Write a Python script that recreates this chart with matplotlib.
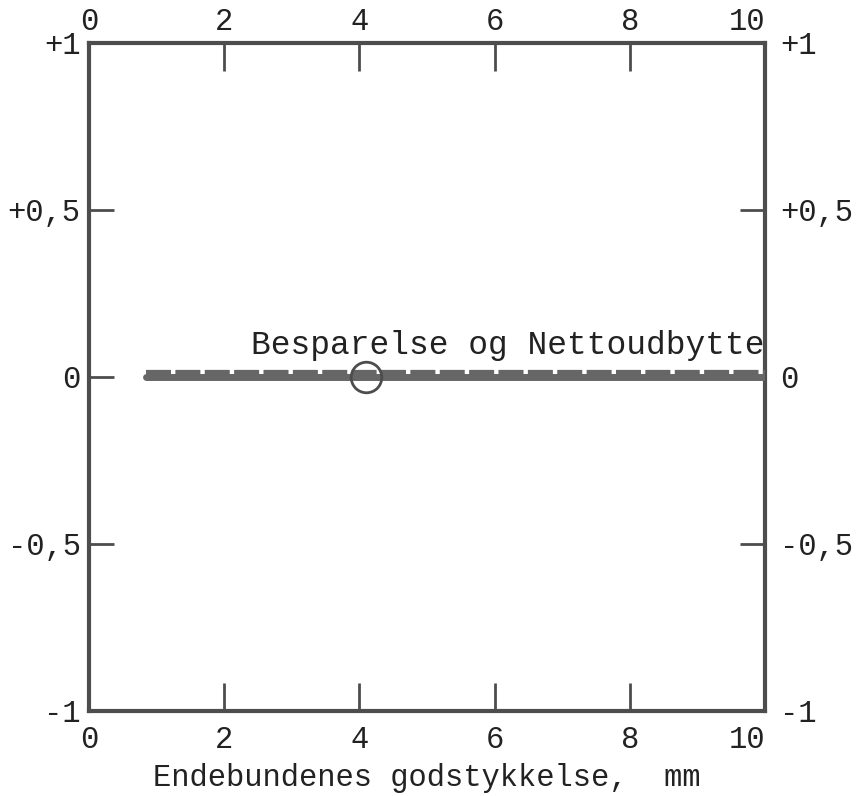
import matplotlib
matplotlib.use("Agg")
import matplotlib.pyplot as plt
import matplotlib.transforms as mtransforms

plt.rcParams['font.family'] = ['Liberation Mono', 'DejaVu Sans Mono']

# data
godstykkelse = [0.85, 10.0]
besparelse = [0.0, 0.0]
nettoudbytte = [0.0, 0.0]
punkt_x = [4.1]
punkt_y = [0.0]

x_ticks = [0, 2, 4, 6, 8, 10]
y_ticks = [-1, -0.5, 0, 0.5, 1]
y_labels = ["-1", "-0,5", "0", "+0,5", "+1"]

ink = '#4d4d4d'
band = '#666666'
txt = '#222222'

fig = plt.figure(figsize=(8.59, 7.96), dpi=100)
ax = fig.add_axes([0.1036, 0.1068, 0.787, 0.8392])

ax.set_xlim(0, 10)
ax.set_ylim(-1, 1)

# thick band: solid lower part + notched upper part
ax.plot(godstykkelse, besparelse, color=band, lw=5, solid_capstyle='round', zorder=3)
shift = mtransforms.offset_copy(ax.transData, fig=fig, x=0, y=4, units='dots')
ax.plot(godstykkelse, nettoudbytte, color=band, lw=4.5, linestyle=(0, (4.0, 0.7)),
        transform=shift, zorder=3)
ax.plot(punkt_x, punkt_y, 'o', ms=22, mfc='none', mec=ink, mew=2, zorder=4)

ax.text(2.4, 0.095, "Besparelse og Nettoudbytte", fontsize=23.7, color=txt,
        ha='left', va='center')

for s in ax.spines.values():
    s.set_linewidth(3)
    s.set_color(ink)

ax.set_xticks(x_ticks)
ax.set_yticks(y_ticks)
ax.set_yticklabels(y_labels)
ax.tick_params(axis='x', which='both', direction='in', length=20, width=2, color=ink,
               top=True, labeltop=True, bottom=True, labelbottom=True,
               labelsize=22, labelcolor=txt, pad=10)
ax.tick_params(axis='y', which='both', direction='in', length=18, width=2, color=ink,
               left=True, right=True, labelleft=True, labelright=True,
               labelsize=22, labelcolor=txt, pad=6)
for t in ax.yaxis.get_major_ticks():
    t.label2.set_x(1.01)
for t in ax.xaxis.get_major_ticks():
    t.label2.set_y(0.988)
# the "10" sits just left of the corner in the original
last = ax.xaxis.get_major_ticks()[-1]
last.label1.set_horizontalalignment('right')
last.label2.set_horizontalalignment('right')

ax.set_xlabel("Endebundenes godstykkelse,  mm", fontsize=22, color=txt, labelpad=6)

fig.savefig("out.png", dpi=100)
